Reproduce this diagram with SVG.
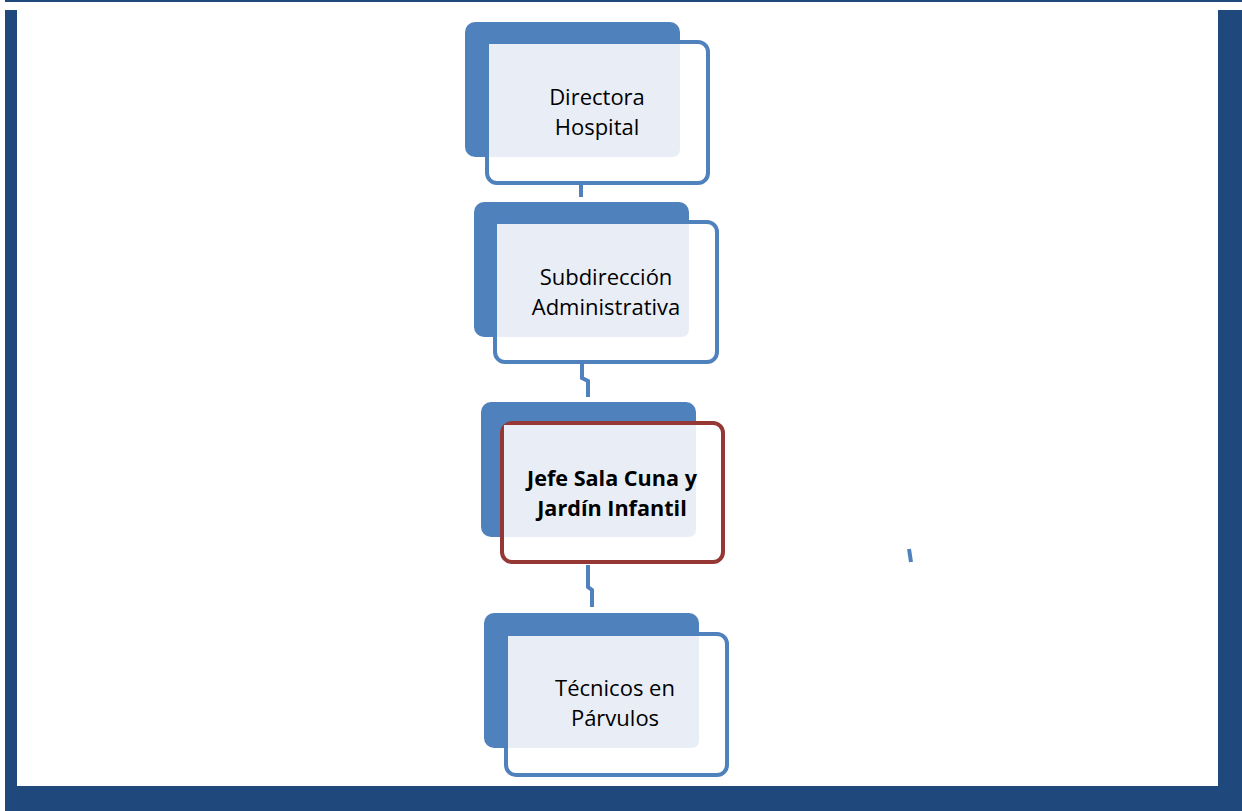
<svg xmlns="http://www.w3.org/2000/svg" width="1242" height="811" viewBox="0 0 1242 811">
<style>
.back{fill:#4f81bd}
.front{fill:#ffffff;stroke:#4f81bd;stroke-width:4}
.front.red{stroke:#953735}
.light{fill:#e9eef6}
.t{font-family:"Open Sans","Noto Sans",sans-serif;font-size:22px;fill:#000;text-anchor:middle}
.b{font-weight:bold;font-size:21.6px}
.ghost{fill:none;stroke:#e4eaf4;stroke-width:4}
.conn{fill:none;stroke:#4f81bd;stroke-width:4}
</style>
<rect width="1242" height="811" fill="#ffffff"/>
<g id="frame" fill="#1f497d">
<rect x="5" y="0" width="1237" height="2"/>
<rect x="5" y="10" width="12" height="776"/>
<rect x="1218" y="10" width="24" height="776"/>
<rect x="5" y="786" width="1237" height="25"/>
</g>
<g id="connectors">
<path class="ghost" d="M572 160 V177 H581"/>
<path class="conn" d="M581 185 V197"/>
<path class="ghost" d="M581 341 V360"/>
<path class="conn" d="M582 364 V378 L588 381 V397"/>
<path class="ghost" d="M588 541 V560"/>
<path class="conn" d="M588 565 V587 L592 590 V607"/>
<path class="conn" d="M909 549 L911 562" stroke-width="2"/>
</g>
<g id="n1">
<rect class="back" x="465" y="22" width="215" height="135" rx="10"/>
<rect class="front" x="487" y="42" width="221" height="141" rx="10"/>
<path class="light" d="M489 44 H680 V149 Q680 157 672 157 H489 Z"/>
<text class="t" x="597" y="105">Directora</text>
<text class="t" x="597" y="135">Hospital</text>
</g>
<g id="n2">
<rect class="back" x="474" y="202" width="215" height="135" rx="10"/>
<rect class="front" x="495" y="222" width="222" height="140" rx="10"/>
<path class="light" d="M497 224 H689 V329 Q689 337 681 337 H497 Z"/>
<text class="t" x="606" y="285">Subdirección</text>
<text class="t" x="606" y="315">Administrativa</text>
</g>
<g id="n3">
<rect class="back" x="481" y="402" width="215" height="135" rx="10"/>
<rect class="front red" x="502" y="423" width="221" height="139" rx="10"/>
<path class="light" d="M504 425 H696 V529 Q696 537 688 537 H504 Z"/>
<text class="t b" x="612" y="486">Jefe Sala Cuna y</text>
<text class="t b" x="612" y="516">Jardín Infantil</text>
</g>
<g id="n4">
<rect class="back" x="484" y="613" width="215" height="135" rx="10"/>
<rect class="front" x="506" y="634" width="221" height="141" rx="10"/>
<path class="light" d="M508 636 H699 V740 Q699 748 691 748 H508 Z"/>
<text class="t" x="615" y="696">Técnicos en</text>
<text class="t" x="615" y="726">Párvulos</text>
</g>
</svg>
